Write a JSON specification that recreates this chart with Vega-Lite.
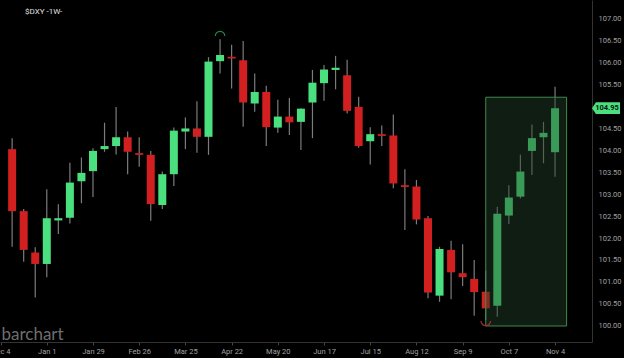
{
  "$schema": "https://vega.github.io/schema/vega-lite/v6.json",
  "width": 592,
  "height": 342,
  "autosize": "none",
  "padding": {"left": 0, "top": 0, "right": 32, "bottom": 16},
  "background": "#000000",
  "title": {"text": "$DXY -1W-", "anchor": "start", "frame": "group", "orient": "top", "offset": -16, "dx": 25, "fontSize": 8, "fontWeight": "normal", "color": "#e0e0e0", "font": "Roboto"},
  "config": {
    "view": {"stroke": null},
    "axis": {"grid": false, "labelFont": "Roboto", "labelFontSize": 7.5, "labelColor": "#a0a0a0", "domainColor": "#333333", "tickColor": "#444444", "labelOverlap": false}
  },
  "datasets": {
    "candles": [
      {"date": "2023-12-11", "open": 104.02, "high": 104.27, "low": 101.80, "close": 102.61},
      {"date": "2023-12-18", "open": 102.61, "high": 102.66, "low": 101.46, "close": 101.73},
      {"date": "2023-12-25", "open": 101.67, "high": 101.79, "low": 100.65, "close": 101.41},
      {"date": "2024-01-01", "open": 101.41, "high": 103.11, "low": 101.11, "close": 102.45},
      {"date": "2024-01-08", "open": 102.40, "high": 102.77, "low": 102.09, "close": 102.45},
      {"date": "2024-01-15", "open": 102.46, "high": 103.71, "low": 102.33, "close": 103.26},
      {"date": "2024-01-22", "open": 103.29, "high": 103.83, "low": 102.79, "close": 103.48},
      {"date": "2024-01-29", "open": 103.52, "high": 104.04, "low": 102.93, "close": 103.98},
      {"date": "2024-02-05", "open": 104.02, "high": 104.62, "low": 103.96, "close": 104.09},
      {"date": "2024-02-12", "open": 104.09, "high": 104.98, "low": 103.90, "close": 104.29},
      {"date": "2024-02-19", "open": 104.29, "high": 104.42, "low": 103.45, "close": 103.96},
      {"date": "2024-02-26", "open": 103.93, "high": 104.29, "low": 103.62, "close": 103.89},
      {"date": "2024-03-04", "open": 103.89, "high": 103.98, "low": 102.39, "close": 102.77},
      {"date": "2024-03-11", "open": 102.75, "high": 103.51, "low": 102.66, "close": 103.45},
      {"date": "2024-03-18", "open": 103.45, "high": 104.51, "low": 103.18, "close": 104.44},
      {"date": "2024-03-25", "open": 104.42, "high": 104.74, "low": 104.02, "close": 104.49},
      {"date": "2024-04-01", "open": 104.49, "high": 105.11, "low": 103.94, "close": 104.30},
      {"date": "2024-04-08", "open": 104.30, "high": 106.11, "low": 103.89, "close": 106.01},
      {"date": "2024-04-15", "open": 106.02, "high": 106.52, "low": 105.74, "close": 106.16},
      {"date": "2024-04-22", "open": 106.12, "high": 106.39, "low": 105.40, "close": 106.08},
      {"date": "2024-04-29", "open": 106.04, "high": 106.48, "low": 104.53, "close": 105.08},
      {"date": "2024-05-06", "open": 105.06, "high": 105.74, "low": 104.87, "close": 105.32},
      {"date": "2024-05-13", "open": 105.32, "high": 105.46, "low": 104.09, "close": 104.52},
      {"date": "2024-05-20", "open": 104.51, "high": 105.14, "low": 104.39, "close": 104.76},
      {"date": "2024-05-27", "open": 104.76, "high": 105.18, "low": 104.34, "close": 104.63},
      {"date": "2024-06-03", "open": 104.64, "high": 104.95, "low": 104.00, "close": 104.94},
      {"date": "2024-06-10", "open": 105.08, "high": 105.82, "low": 104.27, "close": 105.53},
      {"date": "2024-06-17", "open": 105.52, "high": 105.93, "low": 105.12, "close": 105.83},
      {"date": "2024-06-24", "open": 105.82, "high": 106.14, "low": 105.38, "close": 105.87},
      {"date": "2024-07-01", "open": 105.70, "high": 106.05, "low": 104.83, "close": 104.89},
      {"date": "2024-07-08", "open": 104.98, "high": 105.21, "low": 104.05, "close": 104.09},
      {"date": "2024-07-15", "open": 104.20, "high": 104.52, "low": 103.67, "close": 104.36},
      {"date": "2024-07-22", "open": 104.36, "high": 104.56, "low": 104.09, "close": 104.32},
      {"date": "2024-07-29", "open": 104.33, "high": 104.81, "low": 103.13, "close": 103.24},
      {"date": "2024-08-05", "open": 103.20, "high": 103.56, "low": 102.18, "close": 103.16},
      {"date": "2024-08-12", "open": 103.17, "high": 103.32, "low": 102.31, "close": 102.42},
      {"date": "2024-08-19", "open": 102.45, "high": 102.50, "low": 100.63, "close": 100.76},
      {"date": "2024-08-26", "open": 100.69, "high": 101.80, "low": 100.55, "close": 101.75},
      {"date": "2024-09-02", "open": 101.73, "high": 101.94, "low": 100.61, "close": 101.22},
      {"date": "2024-09-09", "open": 101.20, "high": 101.86, "low": 100.91, "close": 101.11},
      {"date": "2024-09-16", "open": 101.07, "high": 101.50, "low": 100.23, "close": 100.77},
      {"date": "2024-09-23", "open": 100.78, "high": 101.26, "low": 100.14, "close": 100.40},
      {"date": "2024-09-30", "open": 100.46, "high": 102.71, "low": 100.21, "close": 102.55},
      {"date": "2024-10-07", "open": 102.51, "high": 103.20, "low": 102.32, "close": 102.92},
      {"date": "2024-10-14", "open": 102.94, "high": 103.89, "low": 102.90, "close": 103.51},
      {"date": "2024-10-21", "open": 103.98, "high": 104.58, "low": 103.43, "close": 104.27},
      {"date": "2024-10-28", "open": 104.29, "high": 104.64, "low": 103.70, "close": 104.39},
      {"date": "2024-11-04", "open": 103.95, "high": 105.44, "low": 103.39, "close": 104.95}
    ],
    "zone": [
      {"start": "2024-09-23", "end": "2024-11-11", "bottom": 100.0, "top": 105.2}
    ],
    "extremes": [
      {"date": "2024-04-15", "price": 106.52, "kind": "high"},
      {"date": "2024-09-23", "price": 100.14, "kind": "low"}
    ],
    "last": [
      {"price": 104.95}
    ]
  },
  "layer": [
    {
      "data": {"name": "candles"},
      "mark": {"type": "rule", "color": "#7c7c7c", "strokeWidth": 1.2},
      "encoding": {
        "x": {"field": "date", "type": "temporal",
          "scale": {"type": "utc", "domain": ["2023-12-06T16:20:00Z", "2024-11-23T08:40:00Z"]},
          "axis": {"title": "barchart", "titleFont": "Lato", "titleFontSize": 17, "titleFontWeight": "normal", "titleColor": "#6e6e6e", "titleAnchor": "start", "titleAlign": "left", "titleBaseline": "alphabetic", "titleX": 1, "titleY": -3,
            "values": [
              {"year": 2023, "month": 12, "date": 4, "utc": true},
              {"year": 2024, "month": 1, "date": 1, "utc": true},
              {"year": 2024, "month": 1, "date": 29, "utc": true},
              {"year": 2024, "month": 2, "date": 26, "utc": true},
              {"year": 2024, "month": 3, "date": 25, "utc": true},
              {"year": 2024, "month": 4, "date": 22, "utc": true},
              {"year": 2024, "month": 5, "date": 20, "utc": true},
              {"year": 2024, "month": 6, "date": 17, "utc": true},
              {"year": 2024, "month": 7, "date": 15, "utc": true},
              {"year": 2024, "month": 8, "date": 12, "utc": true},
              {"year": 2024, "month": 9, "date": 9, "utc": true},
              {"year": 2024, "month": 10, "date": 7, "utc": true},
              {"year": 2024, "month": 11, "date": 4, "utc": true}
            ],
            "labelExpr": "utcFormat(datum.value, '%b %-d')", "tickSize": 3, "labelPadding": 2, "labelFlush": false, "labelOverlap": false}},
        "y": {"field": "low", "type": "quantitative",
          "scale": {"domain": [99.636, 107.41], "nice": false, "zero": false},
          "axis": {"orient": "right", "title": null, "values": [100, 100.5, 101, 101.5, 102, 102.5, 103, 103.5, 104, 104.5, 105.5, 106, 106.5, 107], "labelExpr": "format(datum.value, '.2f')", "ticks": false, "labelPadding": 6, "labelOverlap": false, "labelFlush": false}},
        "y2": {"field": "high"}
      }
    },
    {
      "data": {"name": "candles"},
      "mark": {"type": "bar", "size": 8},
      "encoding": {
        "x": {"field": "date", "type": "temporal"},
        "y": {"field": "open", "type": "quantitative", "title": null, "axis": {"orient": "right", "title": null, "values": [100, 100.5, 101, 101.5, 102, 102.5, 103, 103.5, 104, 104.5, 105.5, 106, 106.5, 107], "labelExpr": "format(datum.value, '.2f')", "ticks": false, "labelPadding": 6, "labelOverlap": false, "labelFlush": false}},
        "y2": {"field": "close"},
        "color": {"condition": {"test": "datum.close >= datum.open", "value": "#4be07f"}, "value": "#d21f1f"}
      }
    },
    {
      "data": {"name": "zone"},
      "mark": {"type": "rect", "fill": "#244229", "fillOpacity": 0.44, "stroke": "#3f8a4f", "strokeWidth": 1},
      "encoding": {
        "x": {"field": "start", "type": "temporal"},
        "x2": {"field": "end"},
        "y": {"field": "bottom", "type": "quantitative", "axis": {"orient": "right", "title": null, "values": [100, 100.5, 101, 101.5, 102, 102.5, 103, 103.5, 104, 104.5, 105.5, 106, 106.5, 107], "labelExpr": "format(datum.value, '.2f')", "ticks": false, "labelPadding": 6, "labelOverlap": false, "labelFlush": false}},
        "y2": {"field": "top"}
      }
    },
    {
      "data": {"name": "extremes"},
      "transform": [{"filter": "datum.kind == 'high'"}],
      "mark": {"type": "point", "shape": "M -1 0.4 A 1 1 0 0 1 1 0.4", "filled": false, "size": 90, "stroke": "#1f8a45", "strokeWidth": 1.2, "yOffset": -5, "opacity": 1},
      "encoding": {
        "x": {"field": "date", "type": "temporal"},
        "y": {"field": "price", "type": "quantitative", "axis": {"orient": "right", "title": null, "values": [100, 100.5, 101, 101.5, 102, 102.5, 103, 103.5, 104, 104.5, 105.5, 106, 106.5, 107], "labelExpr": "format(datum.value, '.2f')", "ticks": false, "labelPadding": 6, "labelOverlap": false, "labelFlush": false}}
      }
    },
    {
      "data": {"name": "extremes"},
      "transform": [{"filter": "datum.kind == 'low'"}],
      "mark": {"type": "point", "shape": "M -1 -0.4 A 1 1 0 0 0 1 -0.4", "filled": false, "size": 90, "stroke": "#9a3030", "strokeWidth": 1.2, "yOffset": 3, "opacity": 1},
      "encoding": {
        "x": {"field": "date", "type": "temporal"},
        "y": {"field": "price", "type": "quantitative", "axis": {"orient": "right", "title": null, "values": [100, 100.5, 101, 101.5, 102, 102.5, 103, 103.5, 104, 104.5, 105.5, 106, 106.5, 107], "labelExpr": "format(datum.value, '.2f')", "ticks": false, "labelPadding": 6, "labelOverlap": false, "labelFlush": false}}
      }
    },
    {
      "data": {"name": "last"},
      "mark": {"type": "point", "shape": "M -1 0 L -0.72 -0.42 L 1 -0.42 L 1 0.42 L -0.72 0.42 Z", "filled": true, "size": 784, "fill": "#4be07f", "opacity": 1, "xOffset": 14, "clip": false},
      "encoding": {
        "x": {"value": "width"},
        "y": {"field": "price", "type": "quantitative", "axis": {"orient": "right", "title": null, "values": [100, 100.5, 101, 101.5, 102, 102.5, 103, 103.5, 104, 104.5, 105.5, 106, 106.5, 107], "labelExpr": "format(datum.value, '.2f')", "ticks": false, "labelPadding": 6, "labelOverlap": false, "labelFlush": false}}
      }
    },
    {
      "data": {"name": "last"},
      "mark": {"type": "text", "font": "Roboto", "fontSize": 7.5, "fontWeight": "bold", "color": "#0a1a0e", "align": "center", "baseline": "middle", "dx": 15, "clip": false},
      "encoding": {
        "x": {"value": "width"},
        "y": {"field": "price", "type": "quantitative", "axis": {"orient": "right", "title": null, "values": [100, 100.5, 101, 101.5, 102, 102.5, 103, 103.5, 104, 104.5, 105.5, 106, 106.5, 107], "labelExpr": "format(datum.value, '.2f')", "ticks": false, "labelPadding": 6, "labelOverlap": false, "labelFlush": false}},
        "text": {"field": "price", "type": "quantitative", "format": ".2f"}
      }
    }
  ]
}
